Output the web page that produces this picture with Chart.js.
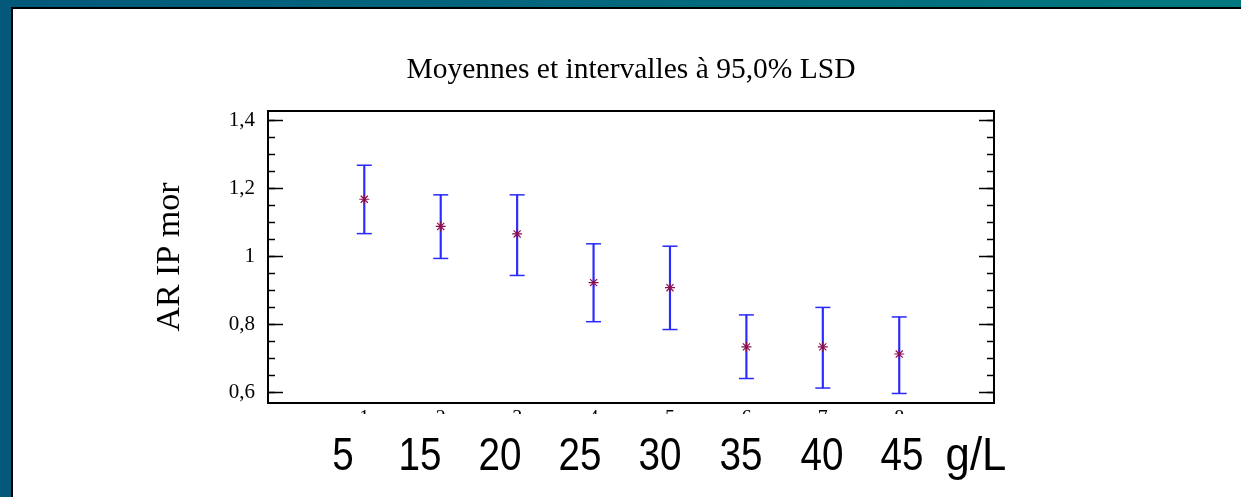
<!DOCTYPE html>
<html>
<head>
<meta charset="utf-8">
<script src="https://cdn.jsdelivr.net/npm/chart.js@4.4.1/dist/chart.umd.min.js"></script>
<style>
  html, body { margin: 0; padding: 0; }
  body { width: 1241px; height: 497px; overflow: hidden; position: relative;
         background: linear-gradient(90deg, #04587a, #00787f); }
  #panel { position: absolute; left: 11px; top: 7px; right: 0; bottom: 0; background: #fff;
           border-left: 2px solid #000; border-top: 2px solid #000; }
  #chart { position: absolute; left: 0; top: 0; }
  #conc { position: absolute; left: 0; top: 431px; width: 1241px; height: 60px;
          font-family: 'Liberation Sans', Arial, sans-serif; font-size: 46px; line-height: 1; color: #000; }
  #conc span { position: absolute; top: 0; white-space: pre; transform: translateX(-50%) scaleX(0.84); }
  #conc span.unit { transform: translateX(-50%) scaleX(0.95); }
</style>
</head>
<body>
<div id="panel"></div>
<canvas id="chart" width="1241" height="497"></canvas>
<div id="conc"></div>
<script>
// groups (x positions) and the concentrations written under them
const groups = [1, 2, 3, 4, 5, 6, 7, 8];
const concentrations = ['5', '15', '20', '25', '30', '35', '40', '45'];
const unit = 'g/L';

// means and 95% LSD intervals
const means = [1.169, 1.089, 1.067, 0.924, 0.909, 0.735, 0.735, 0.714];
const lower = [1.068, 0.995, 0.945, 0.809, 0.786, 0.642, 0.614, 0.598];
const upper = [1.269, 1.182, 1.182, 1.038, 1.031, 0.829, 0.851, 0.823];

// y axis ticks
const yTicks = [0.6, 0.8, 1.0, 1.2, 1.4];
const yTickLabels = ['0,6', '0,8', '1', '1,2', '1,4'];
const yMinorStep = 0.05;

const yMin = 0.57, yMax = 1.4285;
const xMin = -0.26, xMax = 9.24;
const blue = '#2a2aff';
const starColor = '#8b0f4f';
const serif = 'Liberation Serif';

// where the text line under the plot sits (page x of each word centre)
const concX = [343, 420, 500, 580, 660, 741, 822, 902];
const unitX = 976;

const minorTicks = [];
for (let i = 0; yTicks[0] + i * yMinorStep <= yTicks[yTicks.length - 1] + 1e-9; i++) {
  minorTicks.push(+(yTicks[0] + i * yMinorStep).toFixed(2));
}

// bottom text line
const conc = document.getElementById('conc');
function addWord(text, x, cls) {
  const s = document.createElement('span');
  s.textContent = text;
  s.style.left = x + 'px';
  if (cls) s.className = cls;
  conc.appendChild(s);
}
concentrations.forEach((c, i) => addWord(c, concX[i]));
addWord(unit, unitX, 'unit');

function setMajor(scale) { scale.ticks = yTicks.map(v => ({ value: v })); }
function setMinor(scale) { scale.ticks = minorTicks.map(v => ({ value: v })); }

// the reference shows the x tick labels cut off just under the axis
const clipTicks = {
  id: 'clipTicks',
  beforeDatasetsDraw(chart) {
    const a = chart.chartArea, ctx = chart.ctx;
    ctx.save();
    ctx.fillStyle = '#fff';
    ctx.fillRect(a.left - 20, 414, a.width + 40, 18);
    ctx.restore();
  }
};

new Chart(document.getElementById('chart'), {
  type: 'scatter',
  data: {
    datasets: [
      {
        type: 'bar',
        data: groups.map((g, i) => ({ x: g, y: [lower[i], upper[i]] })),
        backgroundColor: blue,
        borderWidth: 0,
        barThickness: 1.5,
        order: 3
      },
      {
        data: groups.flatMap((g, i) => [{ x: g, y: upper[i] }, { x: g, y: lower[i] }]),
        pointStyle: 'line',
        radius: 7.5,
        borderColor: blue,
        borderWidth: 1.5,
        order: 2
      },
      {
        data: groups.map((g, i) => ({ x: g, y: means[i] })),
        pointStyle: 'star',
        radius: 5,
        borderColor: starColor,
        backgroundColor: starColor,
        borderWidth: 1.2,
        order: 1
      }
    ]
  },
  options: {
    responsive: false,
    animation: false,
    devicePixelRatio: 1,
    events: [],
    layout: { padding: { left: 150, right: 247, top: 0, bottom: 64 } },
    plugins: {
      legend: { display: false },
      tooltip: { enabled: false },
      title: {
        display: true,
        fullSize: false,
        text: 'Moyennes et intervalles à 95,0% LSD',
        color: '#000',
        font: { family: serif, size: 29.5, weight: 'normal' },
        padding: { top: 53, bottom: 22.6 }
      }
    },
    scales: {
      x: {
        type: 'linear', position: 'bottom', min: xMin, max: xMax, offset: false,
        afterBuildTicks: s => { s.ticks = groups.map(v => ({ value: v })); },
        afterFit: s => { s.height = 30; },
        ticks: { font: { family: serif, size: 20 }, color: '#000', padding: 4, maxRotation: 0, autoSkip: false,
                 callback: v => String(v) },
        grid: { drawOnChartArea: false, drawTicks: false },
        border: { color: '#000', width: 2 }
      },
      xTop: {
        type: 'linear', position: 'top', min: xMin, max: xMax,
        afterFit: s => { s.height = 0; },
        ticks: { display: false },
        grid: { drawOnChartArea: false, drawTicks: false },
        border: { color: '#000', width: 2 }
      },
      y: {
        position: 'left', weight: 1, min: yMin, max: yMax,
        afterBuildTicks: setMajor,
        afterFit: s => { s.width = 118; },
        ticks: { font: { family: serif, size: 21 }, color: '#000', padding: 28,
                 callback: v => yTickLabels[yTicks.indexOf(v)] },
        grid: { drawOnChartArea: false, tickLength: -15, tickColor: '#000', tickWidth: 1.5 },
        border: { color: '#000', width: 2 },
        title: { display: true, text: 'AR IP mor', color: '#000', font: { family: serif, size: 34 }, padding: 0 }
      },
      yMinor: {
        position: 'left', weight: 0, min: yMin, max: yMax,
        afterBuildTicks: setMinor,
        afterFit: s => { s.width = 0; },
        ticks: { display: false },
        grid: { drawOnChartArea: false, tickLength: -7, tickColor: '#000', tickWidth: 1.5 },
        border: { display: false }
      },
      yR: {
        position: 'right', weight: 1, min: yMin, max: yMax,
        afterBuildTicks: setMajor,
        afterFit: s => { s.width = 0; },
        ticks: { display: false },
        grid: { drawOnChartArea: false, tickLength: -15, tickColor: '#000', tickWidth: 1.5 },
        border: { color: '#000', width: 2 }
      },
      yRMinor: {
        position: 'right', weight: 0, min: yMin, max: yMax,
        afterBuildTicks: setMinor,
        afterFit: s => { s.width = 0; },
        ticks: { display: false },
        grid: { drawOnChartArea: false, tickLength: -7, tickColor: '#000', tickWidth: 1.5 },
        border: { display: false }
      }
    }
  },
  plugins: [clipTicks]
});
</script>
</body>
</html>
